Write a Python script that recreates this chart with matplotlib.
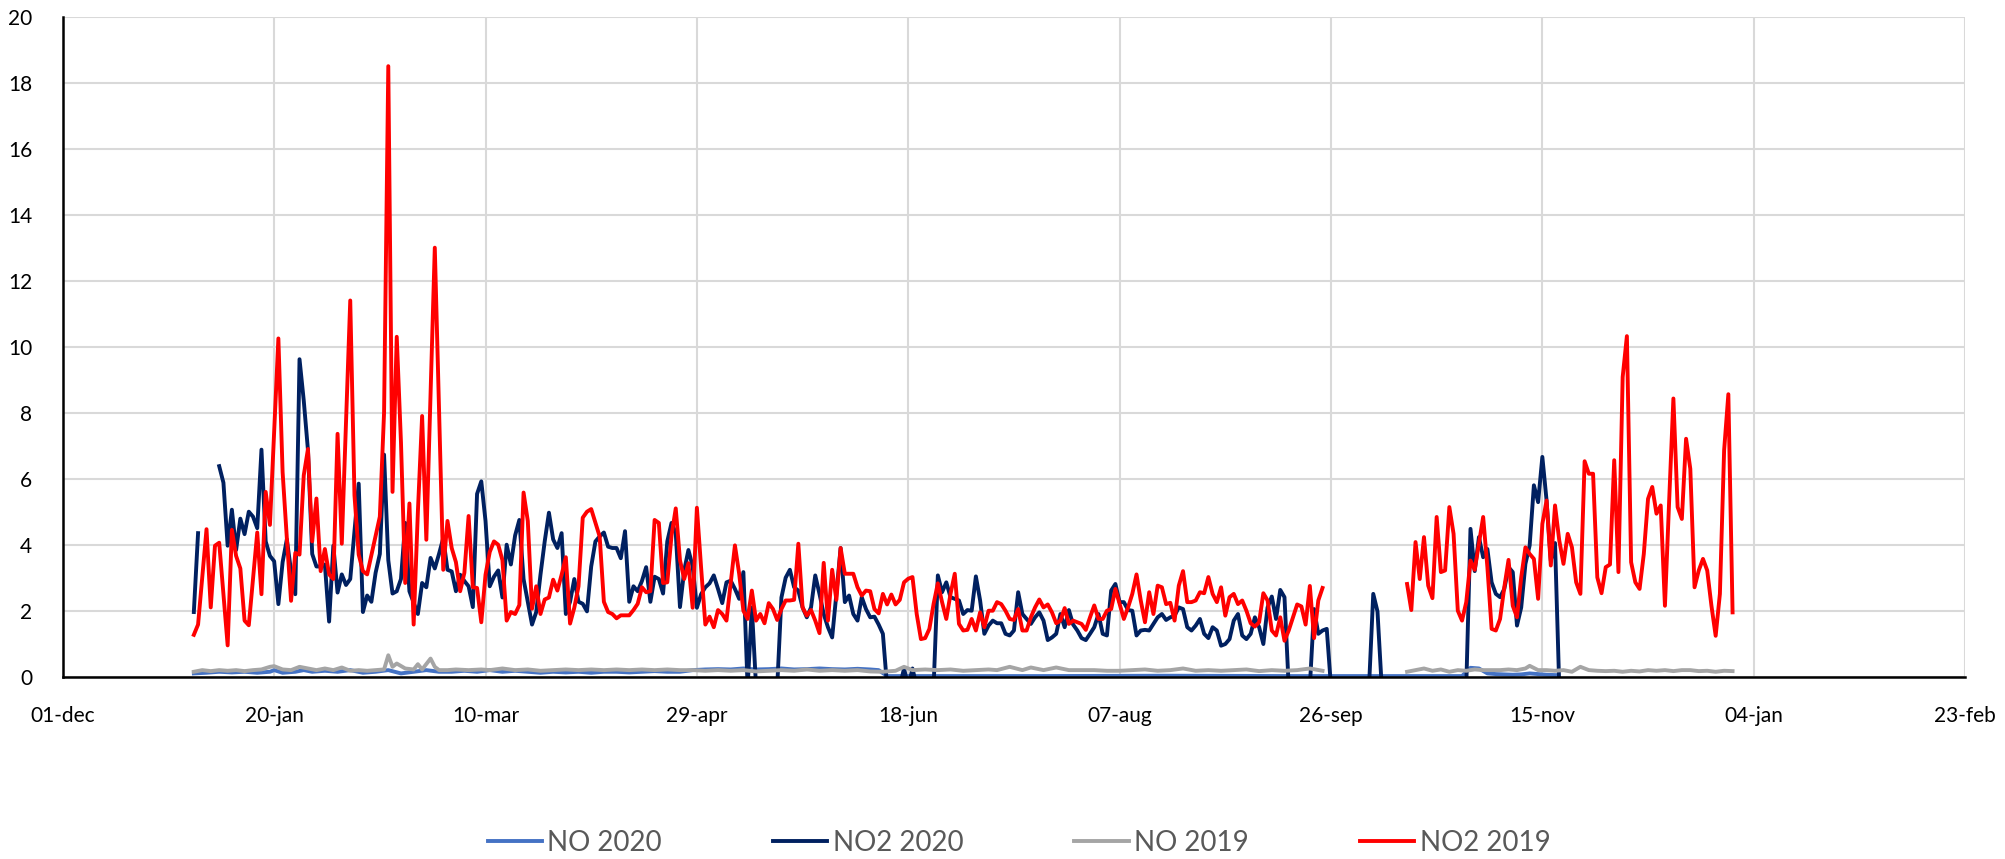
import numpy as np
import matplotlib

matplotlib.use("Agg")
import matplotlib.pyplot as plt
import matplotlib.dates as mdates

plt.rcParams["font.family"] = ["Lato", "DejaVu Sans"]

# x values are days since 1 Jan 2020 (the 2019 series are drawn on the same calendar)
TICK_LABELS = ["01-dec", "20-jan", "10-mar", "29-apr", "18-jun", "07-aug",
               "26-sep", "15-nov", "04-jan", "23-feb"]

no2_2020_days = [
    0, 1, 3, 6, 7, 8, 9, 10, 11, 12, 13, 14, 15, 16, 17, 18, 19, 20, 21, 22, 23, 24, 25,
    26, 27, 28, 29, 30, 31, 32, 33, 34, 35, 36, 37, 39, 40, 41, 42, 43, 44, 45, 46, 47,
    48, 49, 50, 51, 53, 54, 55, 56, 57, 58, 59, 60, 61, 62, 63, 64, 65, 66, 67, 68, 69,
    70, 71, 72, 73, 74, 75, 76, 77, 78, 79, 80, 81, 82, 83, 84, 85, 86, 87, 88, 89, 90,
    91, 92, 93, 94, 95, 96, 97, 98, 99, 100, 101, 102, 103, 104, 105, 106, 107, 108, 109,
    110, 111, 112, 113, 114, 115, 116, 117, 118, 119, 120, 121, 122, 123, 124, 125, 126,
    127, 128, 129, 130, 131, 132, 133, 138, 139, 140, 141, 142, 143, 144, 145, 146, 147,
    148, 149, 150, 151, 152, 153, 154, 155, 156, 157, 158, 159, 160, 161, 162, 163, 164,
    167, 168, 169, 170, 171, 175, 176, 177, 178, 179, 180, 181, 182, 183, 184, 185, 186,
    187, 188, 189, 190, 191, 192, 193, 194, 195, 196, 197, 198, 199, 200, 201, 202, 203,
    204, 205, 206, 207, 208, 209, 210, 211, 212, 213, 214, 215, 216, 217, 218, 219, 220,
    221, 222, 223, 224, 225, 226, 227, 228, 229, 230, 231, 232, 233, 234, 235, 236, 237,
    238, 239, 240, 241, 242, 243, 244, 245, 246, 247, 248, 249, 250, 251, 252, 253, 254,
    255, 256, 257, 258, 259, 264, 265, 266, 267, 268, 269, 278, 279, 280, 281, 301, 302,
    303, 304, 305, 306, 307, 308, 309, 310, 311, 312, 313, 314, 315, 316, 317, 318, 319,
    320, 321, 322, 323,
]
no2_2020 = [
    1.96, 4.35, np.nan, 6.38, 5.88, 3.97, 5.06, 3.84, 4.79, 4.32, 5.0, 4.85, 4.5, 6.88,
    4.1, 3.66, 3.5, 2.2, 3.47, 4.16, 3.2, 2.5, 9.62, 8.37, 6.86, 3.72, 3.34, 3.34, 3.4,
    1.67, 3.97, 2.55, 3.1, 2.78, 2.96, 5.85, 1.96, 2.46, 2.27, 3.15, 3.72, 6.73, 3.53,
    2.52, 2.59, 2.96, 4.66, 2.59, 1.9, 2.84, 2.71, 3.6, 3.28, 3.72, 4.2, 3.24, 3.19, 2.59,
    3.09, 2.9, 2.74, 2.11, 5.54, 5.92, 4.72, 2.74, 3.03, 3.22, 2.4, 4.0, 3.4, 4.28, 4.75,
    2.96, 2.27, 1.58, 1.96, 3.09, 4.1, 4.97, 4.16, 3.9, 4.35, 1.9, 2.27, 2.96, 2.27, 2.21,
    1.98, 3.34, 4.1, 4.25, 4.37, 3.94, 3.9, 3.9, 3.59, 4.41, 2.27, 2.74, 2.59, 2.9, 3.32,
    2.27, 3.03, 2.96, 2.52, 4.1, 4.66, 4.35, 2.11, 3.22, 3.84, 3.34, 2.09, 2.5, 2.71,
    2.83, 3.07, 2.66, 2.23, 2.86, 2.91, 2.66, 2.36, 3.17, -0.3, 2.1, -0.3, -0.3, 2.4, 3.0,
    3.24, 2.71, 2.61, 2.1, 1.8, 2.1, 3.07, 2.51, 1.9, 1.5, 1.19, 2.51, 3.9, 2.26, 2.46,
    1.9, 1.7, 2.41, 2.05, 1.8, 1.82, 1.58, 1.3, -0.3, -0.3, 0.25, -0.3, 0.25, -0.3, -0.3,
    3.07, 2.56, 2.86, 2.41, 2.36, 2.31, 1.9, 2.02, 2.0, 3.04, 2.31, 1.3, 1.55, 1.7, 1.62,
    1.62, 1.3, 1.25, 1.4, 2.56, 1.9, 1.75, 1.6, 1.8, 1.95, 1.7, 1.11, 1.19, 1.3, 1.9, 1.5,
    2.02, 1.58, 1.4, 1.17, 1.11, 1.3, 1.5, 1.9, 1.3, 1.25, 2.61, 2.81, 2.26, 2.26, 2.02,
    2.0, 1.25, 1.4, 1.42, 1.4, 1.6, 1.8, 1.9, 1.72, 1.8, 1.85, 2.1, 2.05, 1.5, 1.4, 1.55,
    1.75, 1.3, 1.17, 1.5, 1.4, 0.94, 0.99, 1.14, 1.7, 1.9, 1.25, 1.14, 1.3, 1.8, 1.5,
    0.99, 2.1, 2.43, 1.75, 2.63, 2.41, -0.3, -0.3, 2.05, 1.3, 1.4, 1.45, -0.3, -0.3, 2.51,
    1.98, -0.3, -0.3, 4.48, 3.2, 4.23, 3.62, 3.87, 2.86, 2.51, 2.41, 2.66, 3.32, 3.17,
    1.55, 2.1, 3.42, 3.98, 5.8, 5.29, 6.66, 5.34, 3.52, 4.05, -0.3,
]

no2_2019_days = [
    0, 1, 3, 4, 5, 6, 8, 9, 10, 11, 12, 13, 15, 16, 17, 18, 20, 21, 22, 23, 24, 25, 26,
    27, 28, 29, 30, 31, 32, 33, 34, 35, 37, 38, 39, 40, 41, 44, 45, 46, 47, 48, 49, 50,
    51, 52, 53, 54, 55, 57, 59, 60, 61, 62, 63, 64, 65, 66, 67, 68, 69, 70, 71, 72, 73,
    74, 75, 76, 77, 78, 79, 80, 81, 82, 83, 84, 85, 86, 87, 88, 89, 90, 91, 92, 93, 94,
    96, 97, 98, 99, 100, 101, 102, 103, 104, 105, 106, 107, 108, 109, 110, 111, 112, 113,
    114, 115, 116, 117, 118, 119, 120, 121, 122, 123, 124, 125, 126, 128, 129, 130, 131,
    132, 133, 134, 135, 136, 137, 138, 139, 140, 141, 142, 143, 144, 145, 146, 147, 148,
    149, 150, 151, 152, 153, 154, 155, 156, 157, 158, 159, 160, 161, 162, 163, 164, 165,
    166, 167, 168, 169, 170, 171, 172, 173, 174, 175, 176, 177, 178, 179, 180, 181, 182,
    183, 184, 185, 186, 187, 188, 189, 190, 191, 192, 193, 194, 195, 196, 197, 198, 199,
    200, 201, 202, 203, 204, 205, 206, 207, 208, 209, 210, 211, 212, 213, 214, 215, 216,
    217, 218, 219, 220, 221, 222, 223, 224, 225, 226, 227, 228, 229, 230, 231, 232, 233,
    234, 235, 236, 237, 238, 239, 240, 241, 242, 243, 244, 245, 246, 247, 248, 249, 250,
    251, 252, 253, 254, 255, 256, 257, 258, 259, 260, 261, 262, 263, 264, 265, 266, 267,
    277, 287, 288, 289, 290, 291, 292, 293, 294, 295, 296, 297, 298, 299, 300, 301, 302,
    303, 304, 305, 306, 307, 308, 309, 310, 311, 312, 313, 314, 315, 316, 317, 318, 319,
    320, 321, 322, 323, 324, 325, 326, 327, 328, 329, 330, 331, 332, 333, 334, 335, 336,
    337, 338, 339, 340, 341, 342, 343, 344, 345, 346, 347, 348, 349, 350, 351, 352, 353,
    354, 355, 356, 357, 358, 359, 360, 361, 362, 363, 364,
]
no2_2019 = [
    1.27, 1.58, 4.47, 2.1, 3.97, 4.06, 0.95, 4.45, 3.66, 3.28, 1.7, 1.56, 4.37, 2.5, 5.6,
    4.6, 10.25, 6.2, 4.2, 2.3, 3.75, 3.7, 6.1, 6.9, 4.1, 5.4, 3.2, 3.87, 3.1, 2.96, 7.36,
    4.03, 11.4, 5.5, 3.7, 3.2, 3.1, 4.85, 8.0, 18.5, 5.6, 10.3, 7.1, 2.84, 5.25, 1.58,
    5.0, 7.9, 4.15, 13.0, 3.24, 4.72, 3.9, 3.47, 2.59, 3.15, 4.87, 2.71, 2.69, 1.65,
    3.09, 3.78, 4.1, 4.0, 3.53, 1.7, 1.96, 1.9, 2.17, 5.58, 4.72, 2.06, 2.74, 1.9, 2.34,
    2.4, 2.94, 2.61, 3.09, 3.62, 1.61, 2.09, 2.74, 4.82, 5.0, 5.08, 4.25, 2.27, 1.96, 1.9,
    1.77, 1.86, 1.86, 1.86, 2.02, 2.21, 2.71, 2.56, 2.59, 4.75, 4.66, 2.84, 2.86, 4.28,
    5.1, 3.53, 2.96, 3.44, 2.09, 5.12, 3.3, 1.58, 1.82, 1.5, 2.02, 1.9, 1.7, 3.98, 3.12,
    2.0, 1.75, 2.61, 1.7, 1.9, 1.62, 2.23, 2.05, 1.72, 2.05, 2.31, 2.31, 2.33, 4.03, 2.1,
    1.85, 2.02, 1.7, 1.32, 3.45, 1.7, 3.24, 2.33, 3.9, 3.12, 3.12, 3.12, 2.71, 2.46, 2.61,
    2.59, 2.05, 1.92, 2.51, 2.19, 2.49, 2.19, 2.33, 2.86, 2.97, 3.02, 1.9, 1.14, 1.17,
    1.45, 2.21, 2.83, 2.26, 1.75, 2.51, 3.12, 1.6, 1.4, 1.42, 1.75, 1.4, 1.95, 1.5, 2.0,
    2.0, 2.26, 2.2, 2.0, 1.75, 1.72, 2.05, 1.4, 1.4, 1.8, 2.1, 2.34, 2.1, 2.19, 1.95,
    1.62, 1.7, 2.08, 1.6, 1.7, 1.65, 1.6, 1.42, 1.8, 2.16, 1.75, 1.75, 2.0, 2.05, 2.66,
    2.2, 1.75, 2.1, 2.51, 3.1, 2.31, 1.65, 2.56, 1.9, 2.76, 2.71, 2.2, 2.24, 1.7, 2.76,
    3.2, 2.26, 2.26, 2.31, 2.56, 2.53, 3.02, 2.51, 2.26, 2.71, 1.85, 2.41, 2.51, 2.2,
    2.31, 2.0, 1.62, 1.52, 1.65, 2.53, 2.31, 1.4, 1.25, 1.8, 1.09, 1.4, 1.8, 2.19, 2.13,
    1.58, 2.75, 1.17, 2.31, 2.69, np.nan, 2.81, 2.02, 4.08, 2.96, 4.23, 2.76, 2.38, 4.84,
    3.17, 3.22, 5.14, 4.33, 2.0, 1.7, 2.26, 3.52, 3.24, 4.03, 4.84, 3.32, 1.45, 1.4, 1.75,
    2.71, 3.54, 2.15, 1.8, 3.01, 3.92, 3.72, 3.57, 2.36, 4.63, 5.34, 3.37, 5.19, 4.13,
    3.42, 4.33, 3.92, 2.86, 2.51, 6.53, 6.15, 6.15, 3.01, 2.53, 3.32, 3.4, 6.56, 3.17,
    9.08, 10.32, 3.47, 2.86, 2.66, 3.72, 5.39, 5.75, 4.94, 5.19, 2.15, 5.34, 8.43, 5.14,
    4.78, 7.21, 6.3, 2.71, 3.22, 3.57, 3.22, 2.15, 1.24, 2.51, 6.86, 8.56, 1.95,
]

no_2019_days = [
    0, 2, 4, 6, 8, 10, 12, 14, 16, 18, 19, 21, 23, 25, 27, 29, 31, 33, 35, 37, 39, 41, 43,
    45, 46, 47, 48, 50, 52, 53, 54, 56, 57, 58, 60, 62, 65, 68, 70, 73, 76, 79, 82, 85,
    88, 91, 94, 97, 100, 103, 106, 109, 112, 115, 118, 121, 124, 127, 130, 133, 136, 139,
    142, 145, 148, 151, 154, 157, 160, 163, 166, 168, 170, 173, 176, 179, 182, 185, 188,
    190, 193, 196, 198, 201, 204, 207, 210, 213, 216, 219, 222, 225, 228, 231, 234, 237,
    240, 243, 246, 249, 252, 255, 258, 261, 264, 267, 277, 287, 289, 291, 293, 295, 297,
    299, 301, 303, 305, 307, 309, 311, 313, 315, 316, 318, 320, 322, 324, 326, 328, 330,
    332, 334, 336, 338, 340, 342, 344, 346, 348, 350, 352, 354, 356, 358, 360, 362, 364,
]
no_2019 = [
    0.15, 0.2, 0.17, 0.2, 0.18, 0.2, 0.17, 0.2, 0.22, 0.3, 0.32, 0.22, 0.2, 0.3, 0.25,
    0.2, 0.25, 0.2, 0.28, 0.18, 0.2, 0.18, 0.2, 0.22, 0.65, 0.3, 0.4, 0.25, 0.22, 0.38,
    0.22, 0.55, 0.3, 0.2, 0.2, 0.22, 0.2, 0.22, 0.2, 0.25, 0.2, 0.22, 0.18, 0.2, 0.22,
    0.2, 0.22, 0.2, 0.22, 0.2, 0.22, 0.2, 0.22, 0.2, 0.2, 0.18, 0.2, 0.18, 0.2, 0.16,
    0.18, 0.2, 0.18, 0.22, 0.18, 0.2, 0.18, 0.2, 0.16, 0.15, 0.18, 0.3, 0.2, 0.22, 0.2,
    0.22, 0.18, 0.2, 0.22, 0.2, 0.3, 0.2, 0.28, 0.2, 0.28, 0.2, 0.2, 0.2, 0.18, 0.18, 0.2,
    0.22, 0.18, 0.2, 0.25, 0.18, 0.2, 0.18, 0.2, 0.22, 0.17, 0.2, 0.18, 0.2, 0.25, 0.18,
    np.nan, 0.15, 0.2, 0.25, 0.18, 0.22, 0.15, 0.2, 0.18, 0.22, 0.2, 0.2, 0.2, 0.22, 0.2,
    0.25, 0.33, 0.2, 0.2, 0.18, 0.2, 0.15, 0.3, 0.2, 0.18, 0.17, 0.18, 0.15, 0.18, 0.16,
    0.2, 0.18, 0.2, 0.17, 0.2, 0.2, 0.17, 0.18, 0.15, 0.18, 0.17,
]

no_2020_days = [
    0, 3, 6, 9, 12, 15, 18, 19, 21, 24, 26, 28, 31, 34, 37, 40, 43, 46, 49, 52, 55, 58,
    61, 64, 67, 70, 73, 76, 79, 82, 85, 88, 91, 94, 97, 100, 103, 106, 109, 112, 115, 118,
    121, 124, 127, 130, 133, 136, 139, 142, 145, 148, 151, 154, 157, 160, 162, 164, 200,
    230, 260, 300, 302, 304, 306, 308, 310, 312, 314, 316, 318, 320, 322,
]
no_2020 = [
    0.1, 0.12, 0.15, 0.13, 0.15, 0.12, 0.15, 0.2, 0.12, 0.15, 0.2, 0.15, 0.18, 0.15, 0.2,
    0.12, 0.15, 0.2, 0.1, 0.15, 0.2, 0.15, 0.15, 0.18, 0.15, 0.2, 0.15, 0.18, 0.15, 0.12,
    0.15, 0.13, 0.15, 0.12, 0.15, 0.15, 0.13, 0.15, 0.17, 0.15, 0.15, 0.2, 0.22, 0.23,
    0.22, 0.25, 0.22, 0.23, 0.25, 0.22, 0.23, 0.25, 0.23, 0.22, 0.24, 0.22, 0.2, 0.02,
    0.02, 0.03, 0.02, 0.02, 0.27, 0.25, 0.1, 0.08, 0.07, 0.06, 0.07, 0.1, 0.08, 0.06, 0.05,
]

SERIES = [
    ("NO 2020", no_2020_days, no_2020, "#4472C4"),
    ("NO2 2020", no2_2020_days, no2_2020, "#002060"),
    ("NO 2019", no_2019_days, no_2019, "#A5A5A5"),
    ("NO2 2019", no2_2019_days, no2_2019, "#FF0000"),
]


def to_dates(days):
    return np.datetime64("2020-01-01") + np.array(days, dtype="timedelta64[D]")


if __name__ == "__main__":
    fig = plt.figure(figsize=(20.06, 8.59), dpi=100)
    ax = fig.add_axes([0.0313, 0.2122, 0.9483, 0.7684])

    for label, days, values, color in SERIES:
        ax.plot(to_dates(days), values, color=color, linewidth=2.8, label=label,
                solid_joinstyle="round")

    start = np.datetime64("2019-12-01")
    ticks = start + np.arange(len(TICK_LABELS)) * np.timedelta64(50, "D")
    ax.set_xlim(mdates.date2num(ticks[0]), mdates.date2num(ticks[-1]))
    ax.set_xticks(mdates.date2num(ticks))
    ax.set_xticklabels(TICK_LABELS)
    ax.set_ylim(0, 20)
    ax.set_yticks(np.arange(0, 21, 2))

    ax.tick_params(axis="both", length=0, labelsize=15, colors="#000000")
    ax.tick_params(axis="x", pad=21)
    ax.tick_params(axis="y", pad=22)

    ax.grid(True, color="#D9D9D9", linewidth=1.5)
    ax.set_axisbelow(True)
    for side in ("top", "right"):
        ax.spines[side].set_visible(False)
    for side in ("left", "bottom"):
        ax.spines[side].set_color("#000000")
        ax.spines[side].set_linewidth(1.8)
        ax.spines[side].set_zorder(5)

    leg = fig.legend(loc="center", bbox_to_anchor=(0.508, 0.019), ncol=4, frameon=False,
                     fontsize=20, handlelength=1.95, handletextpad=0.2, columnspacing=4.0)
    for text in leg.get_texts():
        text.set_color("#595959")

    fig.savefig("out.png", dpi=100)
